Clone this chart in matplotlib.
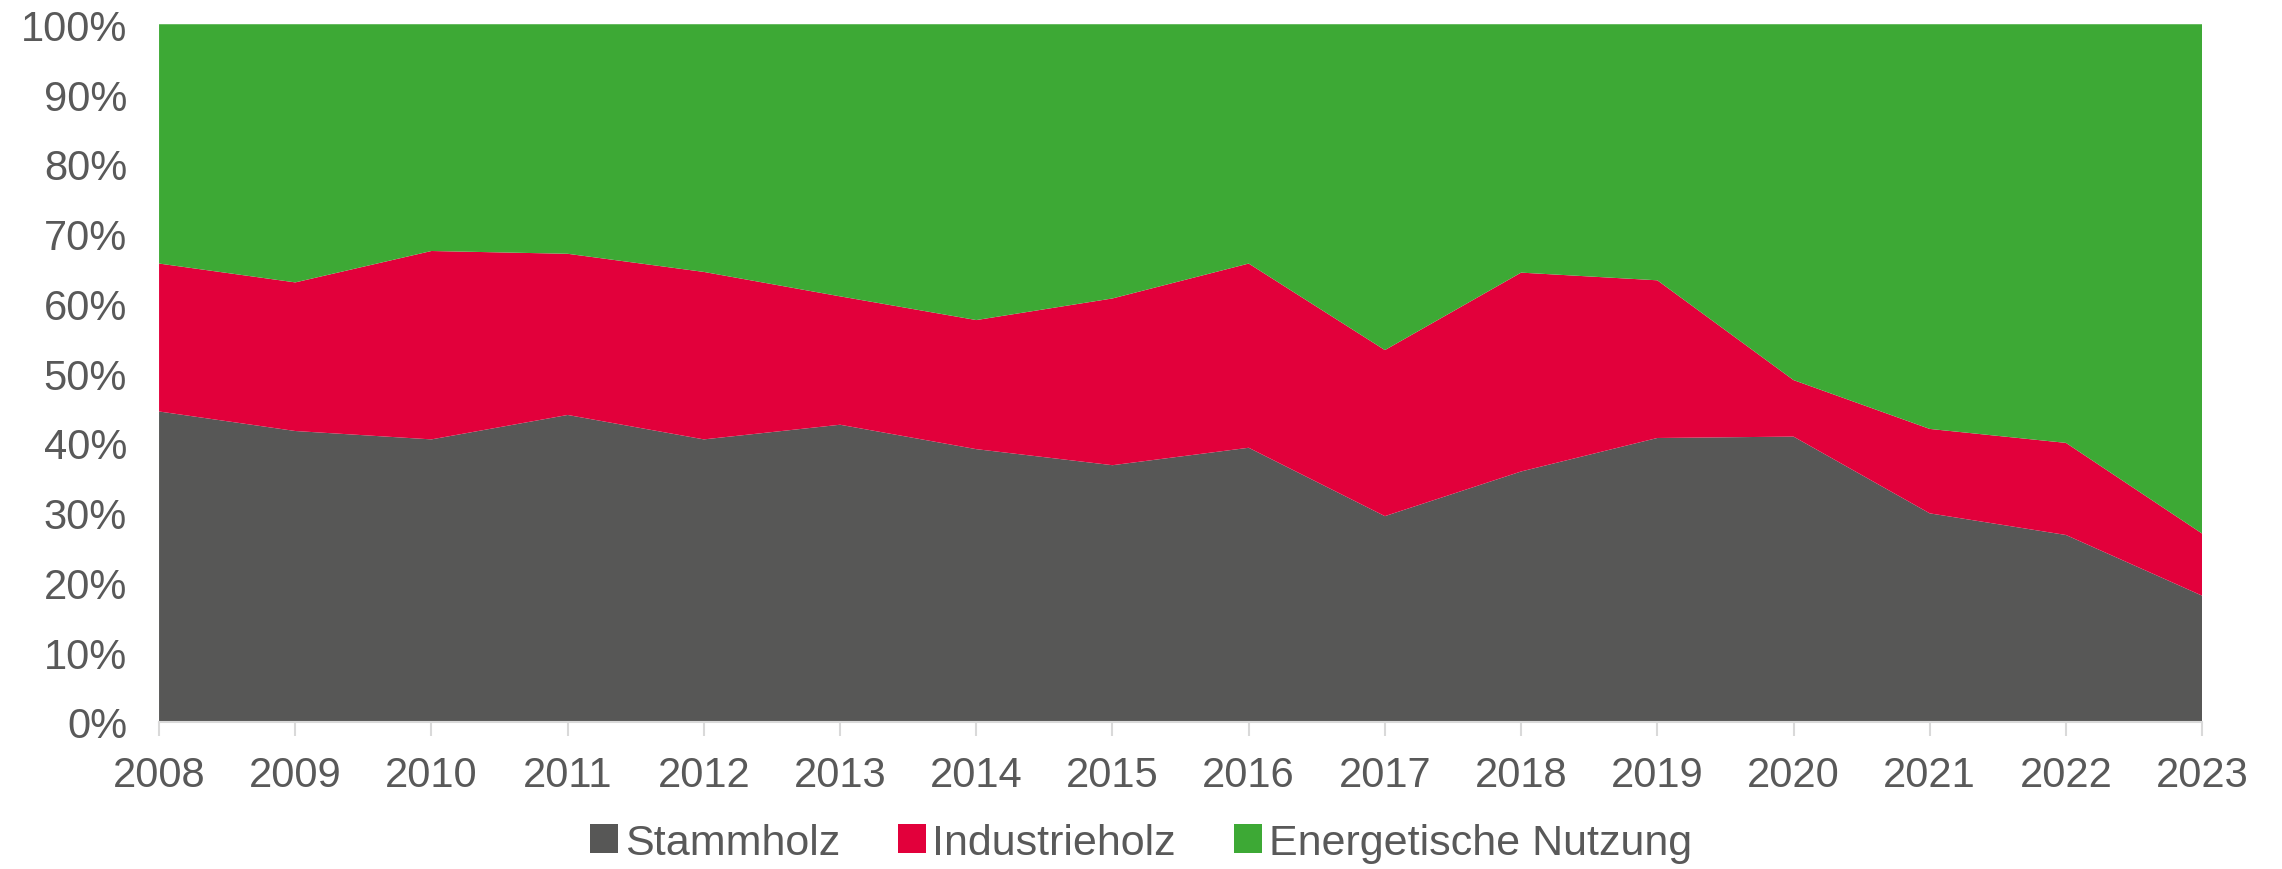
import matplotlib
matplotlib.use("Agg")
import matplotlib.pyplot as plt
from matplotlib.patches import Patch

years = [2008, 2009, 2010, 2011, 2012, 2013, 2014, 2015, 2016, 2017, 2018, 2019, 2020, 2021, 2022, 2023]
stammholz = [44.5, 41.7, 40.5, 44.0, 40.5, 42.6, 39.1, 36.8, 39.3, 29.5, 35.9, 40.7, 40.9, 29.9, 26.8, 18.1]
industrieholz_cum = [65.7, 63.0, 67.5, 67.1, 64.5, 61.0, 57.6, 60.7, 65.7, 53.3, 64.4, 63.3, 49.0, 42.0, 40.0, 27.0]
industrieholz = [c - s for c, s in zip(industrieholz_cum, stammholz)]
energetisch = [100 - c for c in industrieholz_cum]
labels = ["Stammholz", "Industrieholz", "Energetische Nutzung"]
colors = ["#575756", "#E2003B", "#3DA935"]
text_color = "#595959"

plt.rcParams['font.family'] = ['Liberation Sans', 'DejaVu Sans']

fig = plt.figure(figsize=(22.82, 8.70), dpi=100)
ax = fig.add_axes([0.0697, 0.169, 0.8953, 0.802])
ax.stackplot(years, stammholz, industrieholz, energetisch, colors=colors, linewidth=0)
ax.set_xlim(years[0], years[-1])
ax.set_ylim(0, 100)
ax.set_yticks(range(0, 101, 10))
ax.set_yticklabels([f"{v}%" for v in range(0, 101, 10)])
ax.set_xticks(years)
ax.set_xticklabels([str(y) for y in years])
for s in ["top", "right", "left"]:
    ax.spines[s].set_visible(False)
ax.spines["bottom"].set_color("#d9d9d9")
ax.spines["bottom"].set_linewidth(1.5)
ax.tick_params(axis="y", length=0, pad=23, labelsize=30, labelcolor=text_color)
ax.tick_params(axis="x", length=10, width=1.5, color="#d9d9d9", pad=14, labelsize=30, labelcolor=text_color)

handles = [Patch(facecolor=c, edgecolor="none") for c in colors]
fig.legend(handles, labels, loc="center", bbox_to_anchor=(0.5, 0.03), ncol=3, frameon=False,
           fontsize=31, labelcolor=text_color, handlelength=0.65, handleheight=0.65,
           handletextpad=0.15, columnspacing=1.35, borderaxespad=0, borderpad=0)

fig.savefig("out.png", dpi=100)
